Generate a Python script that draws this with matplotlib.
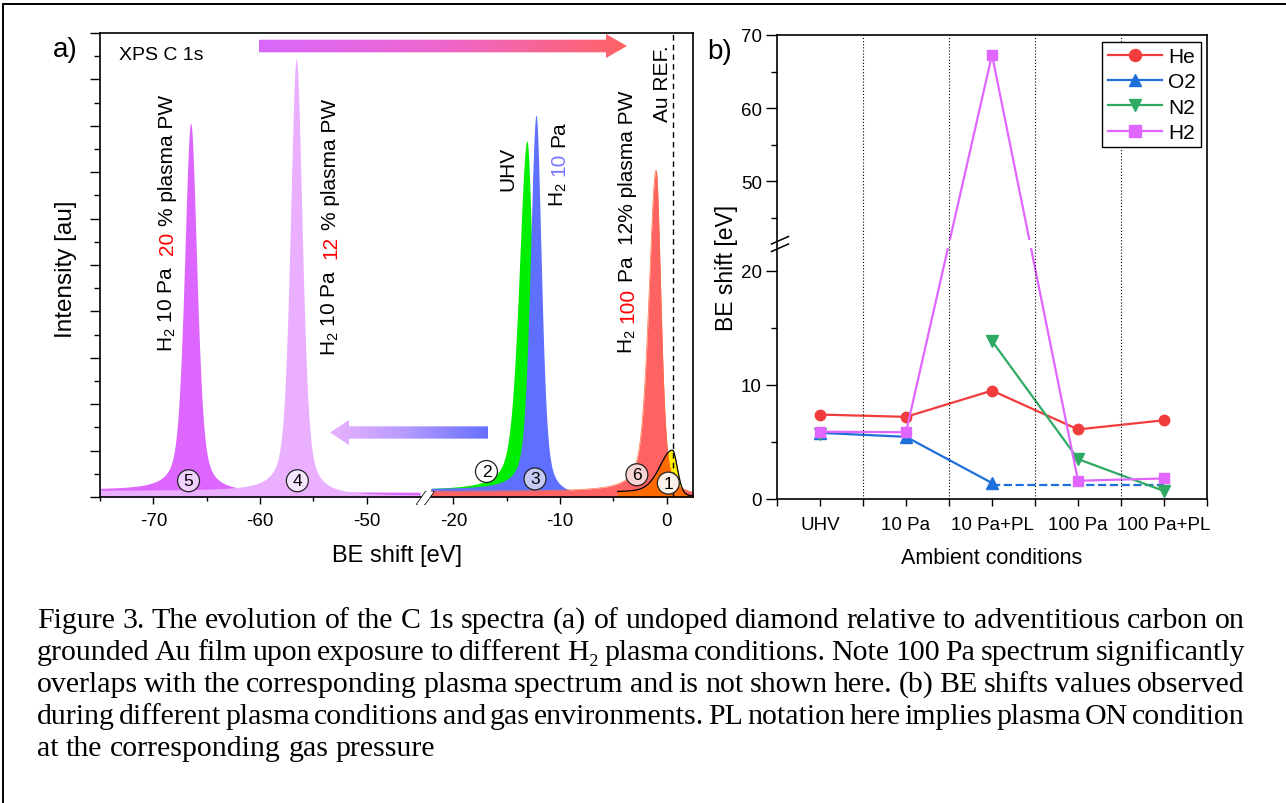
import numpy as np
import matplotlib
matplotlib.use('Agg')
import matplotlib.pyplot as plt
from matplotlib.patches import Polygon
from matplotlib.colors import LinearSegmentedColormap
from matplotlib.ticker import FixedLocator

plt.rcParams['font.family'] = ['Liberation Sans', 'DejaVu Sans']
plt.rcParams['mathtext.fontset'] = 'custom'
plt.rcParams['mathtext.rm'] = 'Liberation Sans'
plt.rcParams['mathtext.it'] = 'Liberation Sans:italic'
plt.rcParams['mathtext.bf'] = 'Liberation Sans:bold'
plt.rcParams['axes.unicode_minus'] = False

W, H = 1286, 804

##### panel a data: C 1s peaks #####
spec_center = [-66.5, -56.6, -13.1, -12.25, -1.0, 0.55]
spec_height = [7.93, 9.36, 7.6, 8.15, 6.98, 0.98]
spec_fwhm_l = [1.4, 1.35, 1.8, 1.3, 1.6, 2.8]
spec_fwhm_r = [1.4, 1.35, 1.3, 1.2, 1.1, 1.1]
spec_eta = [0.5, 0.5, 0.5, 0.5, 0.5, 0.3]
spec_bg_l = [0.16, 0.14, 0.15, 0.17, 0.12, 0.10]
spec_bg_r = [0.10, 0.03, 0.02, 0.0, 0.02, 0.0]
spec_color = ['#DD66FF', '#EBAFFF', '#00EE00', '#5F70FF', '#FF6262', '#FFEE00']

au_ref_x = 0.6
xa_major = [-70, -60, -50, -20, -10, 0]
xa_minor = [-75, -65, -55, -15, -5]

num_labels = ['5', '4', '2', '3', '6', '1']
num_x = [-66.7, -56.5, -16.9, -12.35, -2.8, 0.15]
num_y = [0.35, 0.35, 0.55, 0.39, 0.48, 0.30]
num_fc = ['#F1D2FF', '#F7E6FF', '#FFFFFF', '#C6CBF6', '#F9D4D4', '#FDF1E9']

##### panel b data #####
conditions = ['UHV', '10 Pa', '10 Pa+PL', '100 Pa', '100 Pa+PL']
he_shift = [7.4, 7.2, 9.5, 6.1, 6.9]
o2_shift = [5.8, 5.45, 1.4, np.nan, np.nan]
o2_dashed = [np.nan, np.nan, 1.25, 1.25, 1.25]
n2_shift = [5.7, np.nan, 13.85, 3.5, 0.7]
h2_shift = [5.9, 5.85, 67.3, 1.6, 1.8]

caption_lines = [
    "Figure 3. The evolution of the C 1s spectra (a) of undoped diamond relative to adventitious carbon on",
    "grounded Au film upon exposure to different H\u2082 plasma conditions.  Note 100 Pa spectrum significantly",
    "overlaps with the corresponding plasma spectrum and is not shown here. (b) BE shifts values observed",
    "during different plasma conditions and gas environments. PL notation here implies plasma ON condition",
    "at the corresponding gas pressure",
]


def spectrum(x, c, h, fl, fr, eta, bl, br):
    f = np.where(x < c, fl, fr)
    u = 4 * (x - c) ** 2 / f ** 2
    peak = h * (eta / (1 + u) + (1 - eta) * np.exp(-np.log(2) * u))
    cum = np.cumsum(peak)
    cum = cum / cum[-1]
    return peak + bl + (br - bl) * cum


fig = plt.figure(figsize=(W / 100, H / 100), dpi=100)


def px_axes(x0, y0, x1, y1):
    return fig.add_axes([x0 / W, 1 - y1 / H, (x1 - x0) / W, (y1 - y0) / H])


##### panel a #####
ax = px_axes(100, 34, 693.4, 498)
brk_a = [-200, -45.0, -22.1, 200]
brk_a_t = [-200, -45.0, -45.0 + 1.03, -45.0 + 1.03 + 222.1]
ax.set_xscale('function', functions=(lambda v: np.interp(v, brk_a, brk_a_t),
                                     lambda t: np.interp(t, brk_a_t, brk_a)))

xl = np.linspace(-75, -45, 2000)
xr = np.linspace(-22.1, 2.5, 2500)
curves = []
for i in range(6):
    xx = xl if spec_center[i] < -40 else xr
    if i == 5:
        xx = xr[xr > -4.6]
    yy = spectrum(xx, spec_center[i], spec_height[i], spec_fwhm_l[i], spec_fwhm_r[i],
                  spec_eta[i], spec_bg_l[i], spec_bg_r[i])
    curves.append((xx, yy))

# left part
for i in [0, 1]:
    ax.fill_between(curves[i][0], 0, curves[i][1], color=spec_color[i], lw=0)
# right part: Au first, then UHV, 10 Pa, 100 Pa
ax.fill_between(curves[5][0], 0, curves[5][1], color=spec_color[5], lw=0)
for i in [2, 3]:
    ax.fill_between(curves[i][0], 0, curves[i][1], color=spec_color[i], lw=0)
ax.fill_between(curves[4][0], 0, curves[4][1], color=spec_color[4], lw=0)
ax.plot(curves[4][0], curves[4][1], color='#FF7040', lw=0.5)
red_on_au = np.interp(curves[5][0], curves[4][0], curves[4][1])
ax.fill_between(curves[5][0], 0, np.minimum(red_on_au, curves[5][1]), color='#FF6A00', lw=0)
ax.plot(curves[5][0], curves[5][1], color='k', lw=0.9)
ax.axvline(au_ref_x, color='k', ls=(0, (4, 3)), lw=1.0, zorder=5)

for lab, x, y, fc in zip(num_labels, num_x, num_y, num_fc):
    ax.text(x, y, lab, ha='center', va='center', fontsize=12.5, zorder=6,
            bbox=dict(boxstyle='circle,pad=0.2', fc=fc, ec='#222222', lw=0.9))

ax.set_xlim(-75, 2.5)
ax.set_ylim(0, 10)
ax.xaxis.set_major_locator(FixedLocator(xa_major))
ax.xaxis.set_minor_locator(FixedLocator(xa_minor))
ax.set_xticklabels([str(v) for v in xa_major])
ax.yaxis.set_major_locator(FixedLocator(np.arange(0, 10.1, 1)))
ax.yaxis.set_minor_locator(FixedLocator(np.arange(0.5, 10, 1)))
ax.tick_params(axis='x', which='major', direction='out', length=5, width=1, labelsize=13.5, pad=6)
ax.tick_params(axis='x', which='minor', direction='out', length=3, width=1)
ax.tick_params(axis='y', which='major', direction='out', length=7, width=1, labelleft=False)
ax.tick_params(axis='y', which='minor', direction='out', length=4, width=1)
for s in ax.spines.values():
    s.set_linewidth(1.2)

##### panel b #####
bx = px_axes(777, 36, 1207, 500)
brk_b = [-100, 22, 42, 200]
brk_b_t = [-100, 22, 22.7, 22.7 + 158 * 0.6417]
bx.set_yscale('function', functions=(lambda v: np.interp(v, brk_b, brk_b_t),
                                     lambda t: np.interp(t, brk_b_t, brk_b)))
xb = np.arange(len(conditions))
bx.plot(xb, he_shift, '-o', color='#F03C3C', ms=7.5, lw=1.6, label='He')
bx.plot(xb, o2_shift, '-^', color='#1E6FD9', ms=8, lw=1.6, label='O2')
bx.plot(xb, o2_dashed, '--', color='#1E6FD9', lw=1.6)
bx.plot(xb, n2_shift, '-v', color='#2EAA64', ms=8, lw=1.6, label='N2')
bx.plot(xb, h2_shift, '-s', color='#E066FF', ms=7, lw=1.6, label='H2')
bx.axhspan(22, 42, color='white', lw=0, zorder=2.2)
for xv in np.arange(0.5, 4, 1):
    bx.axvline(xv, color='k', ls=(0, (1, 1.8)), lw=0.8, zorder=2.3)
bx.set_xlim(-0.5, 4.5)
bx.set_ylim(0, 70)
bx.set_xticks(xb)
bx.set_xticklabels(conditions)
bx.xaxis.set_minor_locator(FixedLocator(np.arange(-0.5, 5, 1)))
bx.yaxis.set_major_locator(FixedLocator([0, 10, 20, 50, 60, 70]))
bx.yaxis.set_minor_locator(FixedLocator([5, 15, 45, 55, 65]))
bx.tick_params(axis='x', which='both', direction='out', length=5, width=1, labelsize=13.5, pad=7)
bx.tick_params(axis='y', which='major', direction='out', length=8, width=1, labelsize=13.5, pad=3)
bx.tick_params(axis='y', which='minor', direction='out', length=4, width=1)
for s in bx.spines.values():
    s.set_linewidth(1.2)
leg = bx.legend(loc='upper right', bbox_to_anchor=(1 - 6 / 430, 1 - 7 / 464), borderaxespad=0,
                fancybox=False, edgecolor='k', framealpha=1, fontsize=15, handlelength=2.6,
                handletextpad=0.3, labelspacing=0.3, borderpad=0.25, markerscale=1.15)
leg.get_frame().set_linewidth(1.0)

##### overlay in pixel coordinates: texts, arrows, breaks, caption #####
ov = fig.add_axes([0, 0, 1, 1])
ov.set_xlim(0, W)
ov.set_ylim(H, 0)
ov.set_autoscale_on(False)
ov.axis('off')
r = fig.canvas.get_renderer()


def grad_arrow(x_tail, x_tip, yc, shaft, head_w, head_l, colors):
    d = np.sign(x_tip - x_tail)
    xh = x_tip - d * head_l
    verts = [(x_tail, yc - shaft / 2), (xh, yc - shaft / 2), (xh, yc - head_w / 2), (x_tip, yc),
             (xh, yc + head_w / 2), (xh, yc + shaft / 2), (x_tail, yc + shaft / 2)]
    poly = Polygon(verts, closed=True, fc='none', ec='none')
    ov.add_patch(poly)
    cmap = LinearSegmentedColormap.from_list('g', colors)
    im = ov.imshow(np.linspace(0, 1, 256).reshape(1, -1), cmap=cmap, aspect='auto',
                   extent=(x_tail, x_tip, yc + head_w / 2, yc - head_w / 2), interpolation='bilinear')
    im.set_clip_path(poly)


grad_arrow(259, 627, 47, 12.6, 24, 21, ['#D968FB', '#EE66CC', '#FF6464'])
grad_arrow(488, 330, 433.5, 12.3, 25, 19, ['#6670FF', '#B39AFF', '#EAB2FF'])


def vlabel(x, y, parts, size=15):
    for s, c, gap in parts:
        t = ov.text(x, y, s, rotation=90, rotation_mode='anchor', ha='left', va='baseline',
                    color=c, fontsize=size)
        y -= t.get_window_extent(r).height + gap


red = '#FF0000'
vlabel(173, 352, [('H$_2$ 10 Pa', 'k', 11), ('20', red, 5.5), ('% plasma PW', 'k', 0)])
vlabel(336, 356, [('H$_2$ 10 Pa', 'k', 11), ('12', red, 5.5), ('% plasma PW', 'k', 0)])
vlabel(513, 191, [('UHV', 'k', 0)])
vlabel(564, 207, [('H$_2$', 'k', 6), ('10', '#7777FF', 6), ('Pa', 'k', 0)])
vlabel(633, 354, [('H$_2$', 'k', 6), ('100', red, 6), ('Pa  12% plasma PW', 'k', 0)])
vlabel(668, 122, [('Au REF.', 'k', 0)])

ov.text(119, 56, 'XPS C 1s', fontsize=14, ha='left', va='center')
ov.text(65, 50, 'a)', fontsize=20, ha='center', va='center')
ov.text(720, 52, 'b)', fontsize=20, ha='center', va='center')
ov.text(397, 556, 'BE shift [eV]', fontsize=17, ha='center', va='center')
ov.text(66, 269, 'Intensity [au]', fontsize=17.5, ha='center', va='center', rotation=90)
ov.text(726, 268, 'BE shift [eV]', fontsize=16.5, ha='center', va='center', rotation=90)
ov.text(992, 559, 'Ambient conditions', fontsize=15.5, ha='center', va='center')

# axis breaks
ov.add_patch(Polygon([(417, 505), (425.5, 493), (433.5, 493), (425, 505)], closed=True,
                     fc='white', ec='none', zorder=3))
ov.plot([417, 425.5], [505, 493], color='k', lw=1.1)
ov.plot([425, 433.5], [505, 493], color='k', lw=1.1)
ov.plot([771.5, 788.5], [245, 237.5], color='k', lw=1.1)
ov.plot([771.5, 788.5], [252.5, 245], color='k', lw=1.1)

# outer frame
ov.plot([3, 3, W], [H, 5, 5], color='k', lw=1.4, solid_joinstyle='miter')

# caption, justified like the original
cap_x0, cap_x1 = 37, 1245
cap_y = [628, 660, 692, 724, 756]
cap_kw = dict(fontsize=21.5, family=['Liberation Serif', 'DejaVu Serif'], ha='left', va='baseline')
for k, line in enumerate(caption_lines):
    words = line.split()
    ts = [ov.text(0, cap_y[k], w_, **cap_kw) for w_ in words]
    ws = [t.get_window_extent(r).width for t in ts]
    if k < len(caption_lines) - 1:
        gap = (cap_x1 - cap_x0 - sum(ws)) / (len(words) - 1)
    else:
        gap = 0.25 * 21.5 * 100 / 72
    xpos = cap_x0
    for t, w_ in zip(ts, ws):
        t.set_x(xpos)
        xpos += w_ + gap

ov.set_xlim(0, W)
ov.set_ylim(H, 0)
fig.savefig('out.png', dpi=100, facecolor='white')
